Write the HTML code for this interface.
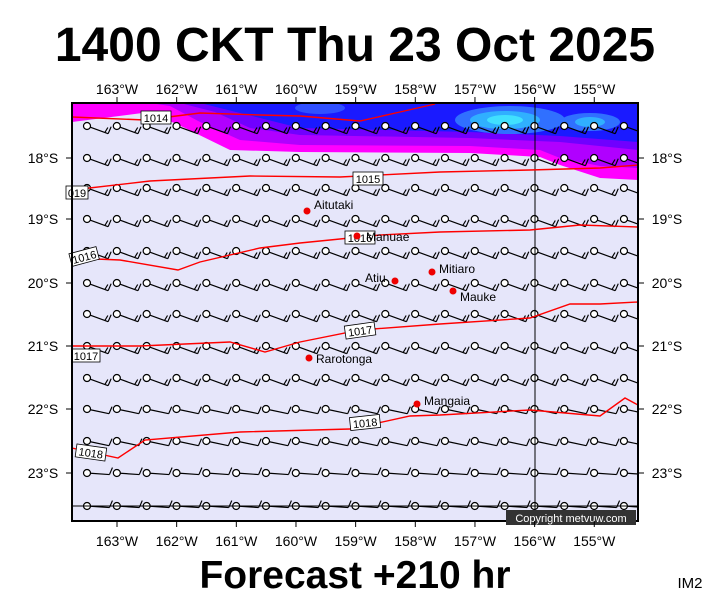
<!DOCTYPE html><html><head><style>body{margin:0;background:#fff}svg{display:block}</style></head><body>
<svg id="s" width="711" height="600" xmlns="http://www.w3.org/2000/svg" font-family="Liberation Sans, sans-serif">
<text x="355" y="61" text-anchor="middle" font-size="48" font-weight="bold">1400 CKT Thu 23 Oct 2025</text>
<text x="355" y="588" text-anchor="middle" font-size="39" font-weight="bold">Forecast +210 hr</text>
<text x="690" y="588" text-anchor="middle" font-size="15">IM2</text>
<defs><clipPath id="c"><rect x="72" y="103" width="566" height="418"/></clipPath></defs>
<rect x="72" y="103" width="566" height="418" fill="#e6e6fa"/>
<g clip-path="url(#c)">
<path d="M72,103 H638 V180 L600,178 L560,165 L540,157 L470,153 L300,152 L230,150 L185,128 L150,112 L72,122 Z" fill="#ff00ff"/>
<path d="M150,103 H638 V168 L600,166 L560,158 L540,150 L470,146 L300,145 L240,140 L200,122 L170,106 Z" fill="#b000ff"/>
<path d="M180,103 H638 V150 L560,142 L470,138 L300,135 L250,128 L215,112 Z" fill="#7000ff"/>
<path d="M200,103 H638 V142 L560,136 L470,132 L300,128 L260,118 Z" fill="#1a1aff"/>
<ellipse cx="320" cy="108" rx="25" ry="6" fill="#3050ff"/>
<ellipse cx="510" cy="120" rx="55" ry="14" fill="#3070ff"/>
<ellipse cx="505" cy="120" rx="35" ry="9" fill="#30b0ff"/>
<ellipse cx="505" cy="120" rx="18" ry="5" fill="#40e0ff"/>
<ellipse cx="590" cy="122" rx="30" ry="9" fill="#3070ff"/>
<ellipse cx="590" cy="122" rx="15" ry="5" fill="#30b0ff"/>
</g>
<g id="barbs" stroke="#000" stroke-width="1.2" fill="none" clip-path="url(#c)"></g>
<line x1="535" y1="103" x2="535" y2="521" stroke="#000" stroke-width="1"/>
<line x1="72" y1="506" x2="638" y2="506" stroke="#000" stroke-width="1"/>
<g fill="none" stroke="#f00" stroke-width="1.4" clip-path="url(#c)">
<polyline points="72,117 145,120 200,113 260,115 300,116 360,121 400,112 435,104"/>
<polyline points="72,190 150,181 250,176 340,177 440,172 530,170 600,168 638,165"/>
<polyline points="72,258 120,260 178,270 200,262 260,248 300,243 380,235 440,232 530,230 580,225 638,227"/>
<polyline points="72,346 140,346 230,342 265,352 300,342 360,330 440,324 530,318 570,304 600,304 638,302"/>
<polyline points="72,448 118,458 145,440 240,432 350,429 410,416 440,415 530,410 600,416 625,398 638,405"/>
</g>
<g font-size="11" text-anchor="middle">
<rect x="141" y="111" width="30" height="13" fill="#fff" stroke="#000" stroke-width="0.8"/><text x="156" y="122">1014</text>
<rect x="353" y="172" width="30" height="13" fill="#fff" stroke="#000" stroke-width="0.8"/><text x="368" y="183">1015</text>
<rect x="66" y="186" width="22" height="13" fill="#fff" stroke="#000" stroke-width="0.8"/><text x="77" y="197">019</text>
<rect x="345" y="231" width="30" height="13" fill="#fff" stroke="#000" stroke-width="0.8"/><text x="360" y="242">1016</text>
<rect x="70" y="250" width="28" height="13" fill="#fff" stroke="#000" stroke-width="0.8" transform="rotate(-15 84 256)"/><text x="84" y="261" transform="rotate(-15 84 256)">1016</text>
<rect x="345" y="324" width="30" height="13" fill="#fff" stroke="#000" stroke-width="0.8" transform="rotate(-8 360 330)"/><text x="360" y="335" transform="rotate(-8 360 330)">1017</text>
<rect x="72" y="349" width="28" height="13" fill="#fff" stroke="#000" stroke-width="0.8"/><text x="86" y="360">1017</text>
<rect x="350" y="416" width="30" height="13" fill="#fff" stroke="#000" stroke-width="0.8" transform="rotate(-6 365 422)"/><text x="365" y="427" transform="rotate(-6 365 422)">1018</text>
<rect x="76" y="446" width="30" height="13" fill="#fff" stroke="#000" stroke-width="0.8" transform="rotate(8 91 452)"/><text x="91" y="457" transform="rotate(8 91 452)">1018</text>
</g>
<g font-size="12" fill="#000">
<circle cx="307" cy="211" r="3.5" fill="#e00"/><text x="314" y="209">Aitutaki</text>
<circle cx="357" cy="236" r="3.5" fill="#e00"/><text x="366" y="241">Manuae</text>
<circle cx="395" cy="281" r="3.5" fill="#e00"/><text x="365" y="282">Atiu</text>
<circle cx="432" cy="272" r="3.5" fill="#e00"/><text x="439" y="273">Mitiaro</text>
<circle cx="453" cy="291" r="3.5" fill="#e00"/><text x="460" y="301">Mauke</text>
<circle cx="309" cy="358" r="3.5" fill="#e00"/><text x="316" y="363">Rarotonga</text>
<circle cx="417" cy="404" r="3.5" fill="#e00"/><text x="424" y="405">Mangaia</text>
</g>
<rect x="72" y="103" width="566" height="418" fill="none" stroke="#000" stroke-width="2"/>
<rect x="506" y="510" width="130" height="15" fill="#333"/>
<text x="571" y="522" font-size="11" fill="#fff" text-anchor="middle">Copyright metvuw.com</text>
<g id="ax" font-size="14" text-anchor="middle"></g>
</svg>
<script>
var N="http://www.w3.org/2000/svg",b=document.getElementById('barbs'),ax=document.getElementById('ax');
function el(p,t,a){var e=document.createElementNS(N,t);for(var k in a)e.setAttribute(k,a[k]);p.appendChild(e);return e}
var rows=[126,158,188,219,251,283,314,346,378,409,441,473,506];
rows.forEach(function(y,ri){
 var ang=(ri<9?20:(ri<11?12:4))*Math.PI/180, nb=ri<9?2:1, L=19;
 for(var ci=0;ci<19;ci++){var x=87+ci*29.83;
  var sx=x+3.5*Math.cos(ang),sy=y+3.5*Math.sin(ang);
  var ex=sx+L*Math.cos(ang),ey=sy+L*Math.sin(ang);
  el(b,'line',{x1:sx,y1:sy,x2:ex,y2:ey});
  for(var k=0;k<nb;k++){var bx=ex-k*3.5*Math.cos(ang),by=ey-k*3.5*Math.sin(ang);
   el(b,'line',{x1:bx,y1:by,x2:bx+3,y2:by-(k?5:7)});}
  el(b,'circle',{cx:x,cy:y,r:3.5,fill:'#fff'});
 }});
for(var i=0;i<9;i++){var x=117+i*59.66,t=(163-i)+'°W';
 el(ax,'line',{x1:x,y1:103,x2:x,y2:97,stroke:'#000'});el(ax,'line',{x1:x,y1:521,x2:x,y2:527,stroke:'#000'});
 el(ax,'text',{x:x,y:94}).textContent=t;el(ax,'text',{x:x,y:546}).textContent=t;}
[158,219,283,346,409,473].forEach(function(y,i){var t=(18+i)+'°S';
 el(ax,'line',{x1:66,y1:y,x2:72,y2:y,stroke:'#000'});el(ax,'line',{x1:638,y1:y,x2:644,y2:y,stroke:'#000'});
 el(ax,'text',{x:43,y:y+5}).textContent=t;el(ax,'text',{x:667,y:y+5}).textContent=t;});
</script>
</body></html>
